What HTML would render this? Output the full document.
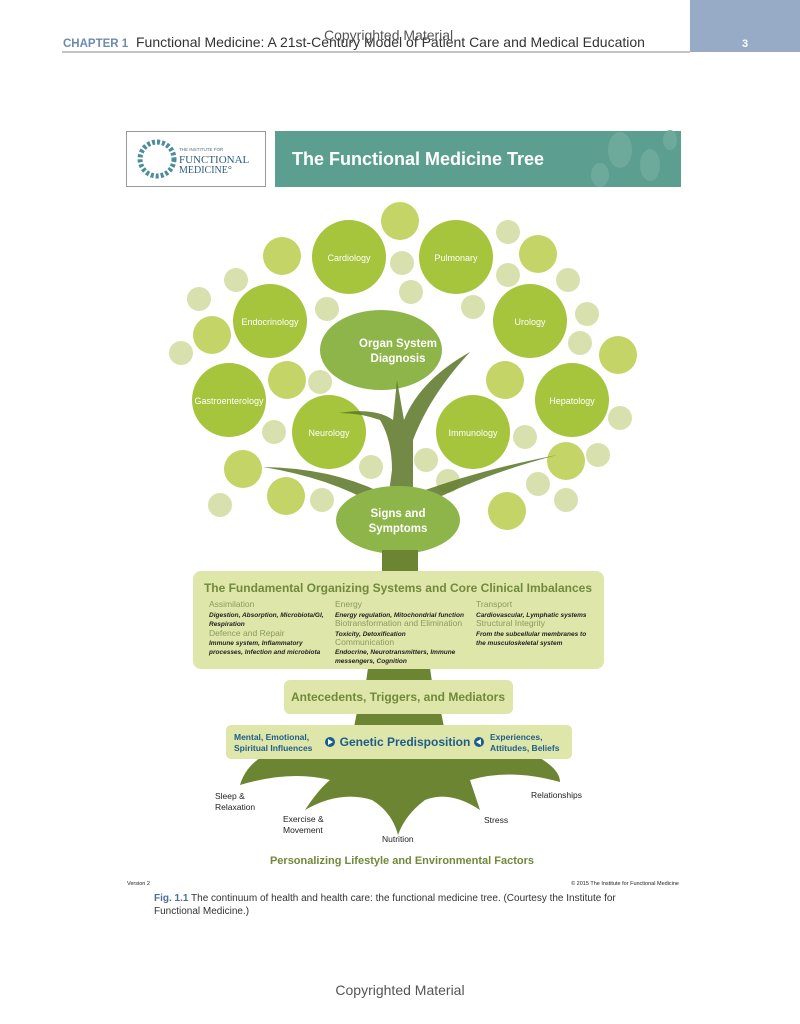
<!DOCTYPE html>
<html><head><meta charset="utf-8"><style>
body{margin:0;background:#fff;}
svg{display:block;font-family:"Liberation Sans",Arial,sans-serif;}
</style></head><body>
<svg width="800" height="1024" viewBox="0 0 800 1024">
<rect x="690" y="0" width="110" height="52" fill="#97abc6"/>
<text x="742" y="47" font-size="11" fill="#fff" font-weight="bold">3</text>
<line x1="62" y1="52" x2="690" y2="52" stroke="#888" stroke-width="1"/>
<text x="63" y="47" font-size="11.5" fill="#6d8bb0" font-weight="bold">CHAPTER 1</text>
<text x="136" y="47" font-size="14" fill="#333">Functional Medicine: A 21st-Century Model of Patient Care and Medical Education</text>
<text x="324" y="40" font-size="14" fill="#555">Copyrighted Material</text>

<rect x="126.5" y="131.5" width="139" height="55" fill="#fff" stroke="#999"/>
<circle cx="157" cy="159" r="17" fill="none" stroke="#4d8c9a" stroke-width="5" stroke-dasharray="3 2"/>
<text x="179" y="151" font-size="4.5" fill="#4d6f88">THE INSTITUTE FOR</text>
<text x="179" y="163" font-size="11" fill="#2f5d80" font-family="Liberation Serif,serif">FUNCTIONAL</text>
<text x="179" y="173" font-size="10" fill="#2f5d80" font-family="Liberation Serif,serif">MEDICINE°</text>
<rect x="275" y="131" width="406" height="56" fill="#5c9f90"/>
<ellipse cx="620" cy="150" rx="12" ry="18" fill="#6eaa9c"/><ellipse cx="650" cy="165" rx="10" ry="16" fill="#6eaa9c"/><ellipse cx="600" cy="175" rx="9" ry="12" fill="#6eaa9c"/><ellipse cx="670" cy="140" rx="7" ry="10" fill="#6eaa9c"/>
<text x="292" y="165" font-size="18" fill="#fff" font-weight="bold">The Functional Medicine Tree</text>

<!-- decorative circles -->
<g fill="#d8e1ae">
<circle cx="236" cy="280" r="12"/><circle cx="199" cy="299" r="12"/><circle cx="181" cy="353" r="12"/><circle cx="402" cy="263" r="12"/><circle cx="411" cy="292" r="12"/><circle cx="327" cy="309" r="12"/><circle cx="508" cy="232" r="12"/><circle cx="568" cy="280" r="12"/><circle cx="473" cy="307" r="12"/><circle cx="508" cy="275" r="12"/><circle cx="587" cy="314" r="12"/><circle cx="580" cy="343" r="12"/><circle cx="320" cy="382" r="12"/><circle cx="620" cy="418" r="12"/><circle cx="274" cy="432" r="12"/><circle cx="525" cy="437" r="12"/><circle cx="220" cy="505" r="12"/><circle cx="322" cy="500" r="12"/><circle cx="371" cy="467" r="12"/><circle cx="426" cy="460" r="12"/><circle cx="448" cy="481" r="12"/><circle cx="598" cy="455" r="12"/><circle cx="538" cy="484" r="12"/><circle cx="566" cy="500" r="12"/>
</g>
<g fill="#c5d466">
<circle cx="400" cy="221" r="19"/><circle cx="282" cy="256" r="19"/><circle cx="212" cy="335" r="19"/><circle cx="538" cy="254" r="19"/><circle cx="618" cy="355" r="19"/><circle cx="287" cy="380" r="19"/><circle cx="505" cy="380" r="19"/><circle cx="243" cy="469" r="19"/><circle cx="286" cy="496" r="19"/><circle cx="566" cy="461" r="19"/><circle cx="507" cy="511" r="19"/>
</g>
<g fill="#a6c43c">
<circle cx="349" cy="257" r="37"/><circle cx="456" cy="257" r="37"/><circle cx="270" cy="321" r="37"/><circle cx="530" cy="321" r="37"/><circle cx="229" cy="400" r="37"/><circle cx="572" cy="400" r="37"/><circle cx="329" cy="432" r="37"/><circle cx="473" cy="432" r="37"/>
</g>
<ellipse cx="381" cy="350" rx="61" ry="40" fill="#8db54a"/>
<!-- trunk/branches -->
<g fill="#5f7a2c" opacity="0.88">
<path d="M383 575 L388 500 L392 470 Q392 440 380 420 Q360 413 339 413 Q375 407 393 420 L397 380 L404 420 Q420 380 470 352 Q430 395 413 440 L413 500 L417 575 Z"/>
<path d="M263 467 Q330 468 380 492 L376 505 Q330 478 263 467 Z"/>
<path d="M557 455 Q480 470 420 492 L424 505 Q480 475 557 455 Z"/>
</g>
<ellipse cx="398" cy="520" rx="62" ry="34" fill="#8db54a"/>
<g fill="#fff" font-size="9" text-anchor="middle">
<text x="349" y="261">Cardiology</text><text x="456" y="261">Pulmonary</text><text x="270" y="325">Endocrinology</text><text x="530" y="325">Urology</text><text x="229" y="404">Gastroenterology</text><text x="572" y="404">Hepatology</text><text x="329" y="436">Neurology</text><text x="473" y="436">Immunology</text>
<text x="398" y="347" font-size="11.5" font-weight="bold">Organ System</text><text x="398" y="362" font-size="11.5" font-weight="bold">Diagnosis</text>
<text x="398" y="517" font-size="11.5" font-weight="bold">Signs and</text><text x="398" y="532" font-size="11.5" font-weight="bold">Symptoms</text>
</g>
<!-- lower trunk -->
<rect x="382" y="550" width="36" height="25" fill="#6b8533"/>
<path d="M368 668 L430 668 L432 682 L366 682 Z" fill="#6b8533"/>
<path d="M357 712 L441 712 L444 727 L354 727 Z" fill="#6b8533"/>
<path d="M260 758 L540 758 Q560 770 560 782 Q510 768 470 780 Q475 795 480 810 Q450 790 425 800 Q405 815 398 835 Q392 812 372 800 Q340 790 305 810 Q318 790 330 780 Q290 770 240 785 Q245 768 260 758 Z" fill="#6b8533"/>

<rect x="193" y="571" width="411" height="98" rx="8" fill="#dfe6a9"/>
<text x="398" y="592" font-size="12" font-weight="bold" fill="#6f8a3a" text-anchor="middle">The Fundamental Organizing Systems and Core Clinical Imbalances</text>
<g font-size="8.5" fill="#8a9a5e">
<text x="209" y="607">Assimilation</text><text x="209" y="636">Defence and Repair</text>
<text x="335" y="607">Energy</text><text x="335" y="626">Biotransformation and Elimination</text><text x="335" y="645">Communication</text>
<text x="476" y="607">Transport</text><text x="476" y="626">Structural Integrity</text>
</g>
<g font-size="6.5" font-style="italic" font-weight="bold" fill="#222">
<text x="209" y="617">Digestion, Absorption, Microbiota/GI,</text><text x="209" y="626">Respiration</text>
<text x="209" y="645">Immune system, Inflammatory</text><text x="209" y="654">processes, Infection and microbiota</text>
<text x="335" y="617">Energy regulation, Mitochondrial function</text><text x="335" y="636">Toxicity, Detoxification</text>
<text x="335" y="654">Endocrine, Neurotransmitters, Immune</text><text x="335" y="663">messengers, Cognition</text>
<text x="476" y="617">Cardiovascular, Lymphatic systems</text><text x="476" y="636">From the subcellular membranes to</text><text x="476" y="645">the musculoskeletal system</text>
</g>
<rect x="284" y="680" width="229" height="34" rx="6" fill="#dfe6a9"/>
<text x="398" y="701" font-size="12" font-weight="bold" fill="#6f8a3a" text-anchor="middle">Antecedents, Triggers, and Mediators</text>
<rect x="226" y="725" width="346" height="34" rx="5" fill="#dfe6a9"/>
<g fill="#1d5d8c" font-weight="bold">
<text x="234" y="740" font-size="8.5">Mental, Emotional,</text><text x="234" y="751" font-size="8.5">Spiritual Influences</text>
<text x="490" y="740" font-size="8.5">Experiences,</text><text x="490" y="751" font-size="8.5">Attitudes, Beliefs</text>
<text x="405" y="746" font-size="12" text-anchor="middle">Genetic Predisposition</text>
<circle cx="330" cy="742" r="5"/><circle cx="479" cy="742" r="5"/>
</g>
<path d="M328 739 L333 742 L328 745Z M481 739 L476 742 L481 745Z" fill="#fff"/>
<g font-size="8.5" fill="#222">
<text x="215" y="799">Sleep &amp;</text><text x="215" y="810">Relaxation</text>
<text x="283" y="822">Exercise &amp;</text><text x="283" y="833">Movement</text>
<text x="382" y="842">Nutrition</text><text x="484" y="823">Stress</text><text x="531" y="798">Relationships</text>
</g>
<text x="402" y="864" font-size="11" font-weight="bold" fill="#6f8a3a" text-anchor="middle">Personalizing Lifestyle and Environmental Factors</text>
<text x="127" y="885" font-size="5.5" fill="#222">Version 2</text>
<text x="679" y="885" font-size="5.5" fill="#222" text-anchor="end">© 2015 The Institute for Functional Medicine</text>
<text x="154" y="901" font-size="10" fill="#333"><tspan fill="#4b6f98" font-weight="bold">Fig. 1.1</tspan> The continuum of health and health care: the functional medicine tree. (Courtesy the Institute for</text>
<text x="154" y="914" font-size="10" fill="#333">Functional Medicine.)</text>
<text x="400" y="995" font-size="14" fill="#555" text-anchor="middle">Copyrighted Material</text>
</svg>
</body></html>
